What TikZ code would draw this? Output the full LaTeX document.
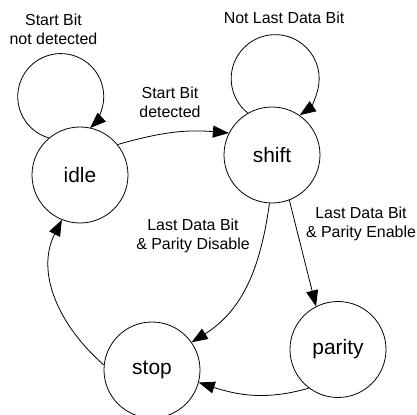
\documentclass[tikz,border=0pt]{standalone}
\usepackage{fontspec}
\setmainfont{Liberation Sans}
\usetikzlibrary{arrows.meta}
\begin{document}
\begin{tikzpicture}[x=1bp,y=1bp,
  state/.style={circle,draw,line width=0.8bp,minimum size=96bp,inner sep=0pt,font=\fontsize{21}{25}\selectfont},
  lbl/.style={align=center,font=\fontsize{16}{19}\selectfont,inner sep=0pt},
  edge/.style={line width=0.8bp,-{Triangle[length=16bp,width=12bp]}}]
\useasboundingbox (0,0) rectangle (417,415);
\node[state] (idle) at (80,240) {idle};
\node[state] (shift) at (272,260) {shift};
\node[state] (stop) at (152,45) {stop};
\node[state] (parity) at (338,65.5) {parity};

\node[lbl] (l1) at (53.5,386) {Start Bit\\not detected};
\node[lbl] (l2) at (170,312.5) {Start Bit\\detected};
\node[lbl] (l3) at (284,397) {Not Last Data Bit};
\node[lbl] (l4) at (193,179) {Last Data Bit\\\& Parity Disable};
\node[lbl] (l5) at (361,191.5) {Last Data Bit\\\& Parity Enable};

\draw[edge] (idle.130) arc[start angle=254,end angle=-47,radius=43];
\draw[edge] (shift.120) arc[start angle=231.5,end angle=-56,radius=44];
\draw[edge] (idle.39) to[out=16,in=175] (shift.153);
\draw[edge] (shift.267) to[out=262,in=32] (stop.35);
\draw[edge] (shift.291) -- (parity.117);
\draw[edge] (parity.233) to[out=196,in=-18] (stop.-15);
\draw[edge] (stop.174) to[out=139,in=243] (idle.248);
\end{tikzpicture}
\end{document}
